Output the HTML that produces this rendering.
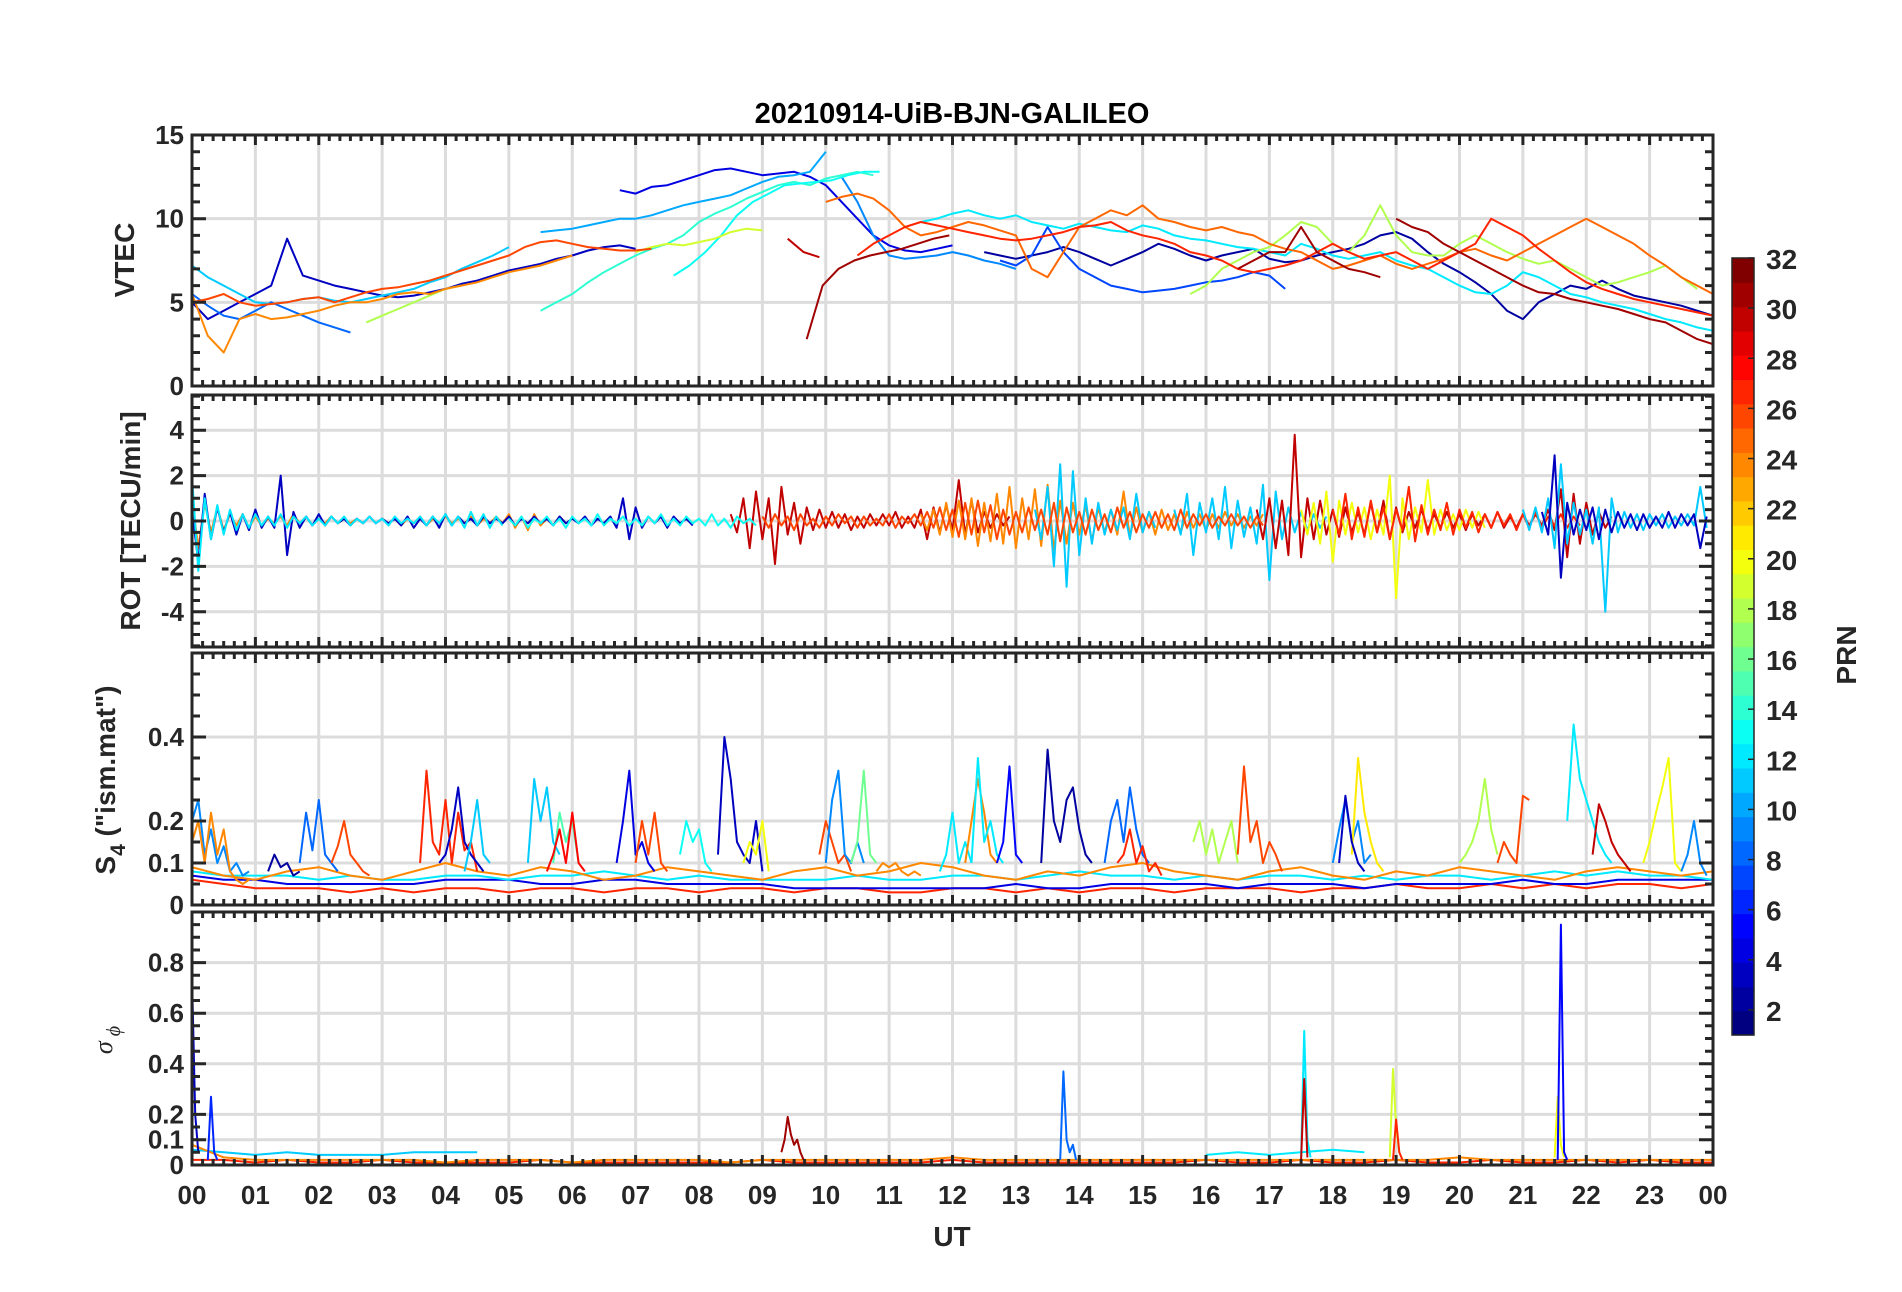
<!DOCTYPE html>
<html><head><meta charset="utf-8"><style>
html,body{margin:0;padding:0;background:#fff;}
svg{display:block;font-family:"Liberation Sans",sans-serif;}
</style></head><body>
<svg id="chart" width="1902" height="1292" viewBox="0 0 1902 1292" xmlns="http://www.w3.org/2000/svg">
<rect x="0" y="0" width="1902" height="1292" fill="#fff"/>
<text x="952" y="123" text-anchor="middle" font-size="29" font-weight="bold" fill="#000">20210914-UiB-BJN-GALILEO</text>
<g id="layers"></g>
<text transform="translate(134,260) rotate(-90)" text-anchor="middle" font-size="28" font-weight="bold" fill="#262626">VTEC</text>
<text transform="translate(140,521) rotate(-90)" text-anchor="middle" font-size="28" font-weight="bold" fill="#262626">ROT [TECU/min]</text>
<text transform="translate(115,780) rotate(-90)" text-anchor="middle" font-size="28" font-weight="bold" fill="#262626">S<tspan dy="10" font-size="21">4</tspan><tspan dy="-10"> ("ism.mat")</tspan></text>
<text transform="translate(112,1040) rotate(-90)" text-anchor="middle" font-size="26" font-style="italic" font-family="Liberation Serif, serif" fill="#262626">σ<tspan dy="8" font-size="20"> ϕ</tspan></text>
<text x="952" y="1246" text-anchor="middle" font-size="28" font-weight="bold" fill="#262626">UT</text>
<text transform="translate(1856,655) rotate(-90)" text-anchor="middle" font-size="28" font-weight="bold" fill="#262626">PRN</text>
</svg>
<script>
// ---------- DATA ----------
const hourLabels = ["00","01","02","03","04","05","06","07","08","09","10","11","12","13","14","15","16","17","18","19","20","21","22","23","00"];
const cbTicks = [2,4,6,8,10,12,14,16,18,20,22,24,26,28,30,32];

// VTEC tracks (dt = 0.25 h)
const vtecPrn = [3,4,2,7,8,11,10,9,12,14,13,19,18,18,24,26,25,27,31,31,31,30];
const vtecStart = [0,6.75,12.5,12.75,0,0,5.5,10.25,11.5,5.5,7.6,7.0,2.75,15.75,0,0,10.0,10.5,9.7,16.5,19.0,9.4];
const vtecVals = [
 [5.0,4.0,4.5,5.0,5.5,6.0,8.8,6.6,6.3,6.0,5.8,5.6,5.4,5.3,5.4,5.6,5.8,6.1,6.3,6.6,6.9,7.1,7.3,7.6,7.8,8.1,8.3,8.4,8.2],
 [11.7,11.5,11.9,12.0,12.3,12.6,12.9,13.0,12.8,12.6,12.7,12.8,12.5,12.0,11.0,10.0,9.0,8.4,8.1,8.0,8.2,8.4],
 [8.0,7.8,7.6,7.8,8.0,8.3,8.0,7.6,7.2,7.6,8.0,8.5,8.2,7.8,7.5,7.8,8.0,8.2,7.6,7.4,7.5,7.8,8.0,8.2,8.5,9.0,9.2,8.8,8.0,7.3,6.8,6.2,5.5,4.5,4.0,5.0,5.5,6.0,5.8,6.3,5.8,5.4,5.2,5.0,4.8,4.5,4.2],
 [7.5,7.2,7.8,9.5,8.0,7.0,6.5,6.0,5.8,5.6,5.7,5.8,6.0,6.2,6.3,6.5,6.8,6.6,5.8],
 [5.5,4.8,4.2,4.0,4.5,5.0,4.6,4.2,3.8,3.5,3.2],
 [7.2,6.5,6.0,5.5,5.0,4.9,5.0,5.2,5.3,5.1,5.0,5.2,5.4,5.6,5.8,6.2,6.5,7.0,7.4,7.8,8.3],
 [9.2,9.3,9.4,9.6,9.8,10.0,10.0,10.2,10.5,10.8,11.0,11.2,11.4,11.8,12.2,12.5,12.6,12.8,14.0],
 [12.5,11.0,9.0,7.8,7.6,7.7,7.8,8.0,7.8,7.5,7.3,7.0],
 [9.8,10.0,10.3,10.5,10.2,10.0,10.2,9.8,9.6,9.4,9.7,9.5,9.3,9.2,9.6,9.4,9.0,8.8,8.7,8.5,8.3,8.2,8.0,7.8,8.5,8.2,7.8,7.6,7.8,8.0,7.5,7.2,7.0,6.5,6.0,5.6,5.5,6.0,6.8,6.5,6.0,5.5,5.3,5.0,4.8,4.6,4.3,4.0,3.8,3.5,3.3],
 [4.5,5.0,5.5,6.2,6.8,7.3,7.8,8.2,8.5,9.0,9.8,10.3,10.7,11.2,11.6,12.0,12.2,12.0,12.4,12.6,12.8,12.6],
 [6.6,7.2,8.0,9.0,10.2,11.0,11.5,12.0,12.1,12.2,12.3,12.6,12.8,12.8],
 [8.0,8.3,8.5,8.4,8.6,8.8,9.2,9.4,9.3],
 [3.8,4.2,4.6,5.0,5.4,5.8,6.0],
 [5.5,6.0,7.0,7.5,8.0,8.3,9.0,9.8,9.5,8.5,8.0,9.0,10.8,9.0,8.0,7.8,7.8,8.5,9.0,8.5,8.0,7.6,7.3,7.5,7.0,6.5,6.0,6.2,6.5,6.8,7.2,6.5,5.8],
 [5.5,3.0,2.0,4.0,4.3,4.0,4.1,4.3,4.5,4.8,5.0,5.0,5.2,5.5,5.6,5.5,5.8,6.0,6.2,6.5,6.8,7.0,7.2,7.5,7.8],
 [5.0,5.2,5.5,5.0,4.8,4.9,5.0,5.2,5.3,5.0,5.3,5.6,5.8,5.9,6.1,6.3,6.6,6.9,7.2,7.5,7.8,8.3,8.6,8.7,8.5,8.3,8.2,8.1,8.1,8.2],
 [11.0,11.3,11.5,11.2,10.5,9.5,9.0,9.2,9.5,9.8,9.6,9.3,9.0,7.0,6.5,8.0,9.5,10.0,10.5,10.2,10.8,10.0,9.8,9.5,9.3,9.5,9.2,9.0,8.5,8.2,8.0,7.5,7.0,7.2,7.5,7.8,7.3,7.0,7.3,7.6,8.0,8.2,7.8,7.5,8.0,8.5,9.0,9.5,10.0,9.5,9.0,8.5,7.8,7.2,6.5,6.0,5.5],
 [7.8,8.5,9.0,9.5,9.8,9.6,9.4,9.2,9.0,8.8,8.7,8.8,9.0,9.2,9.5,9.6,9.8,9.3,9.0,8.8,8.5,8.0,7.8,7.5,7.0,6.8,7.0,7.2,7.5,8.0,8.5,8.0,7.6,7.8,8.0,7.5,7.0,7.5,8.0,8.5,10.0,9.5,9.0,8.2,7.5,6.8,6.2,5.8,5.5,5.2,5.0,4.8,4.6,4.4,4.2],
 [2.8,6.0,7.0,7.5,7.8,8.0,8.2,8.5,8.8,9.0],
 [7.0,7.5,8.0,8.0,9.5,8.0,7.5,7.0,6.8,6.5],
 [10.0,9.5,9.2,8.5,8.0,7.5,7.0,6.5,6.0,5.6,5.5,5.2,5.0,4.8,4.6,4.3,4.0,3.8,3.3,2.8,2.5,2.8,3.0,3.0,3.0],
 [8.8,8.0,7.7]
];

// ROT tracks (dt = 0.1 h)
const rotPrn = [24,3,12,30,24,11,11,30,20,27,11,3,13,26];
const rotStart = [0,0,0,8.5,11.5,13.3,15.5,16.8,17.5,18.0,21.0,21.3,5.0,9.0];
const rotVals = [
 [1.0,-1.2,0.8,-0.5,0.6,-0.4,0.3,-0.2,0.3,-0.3,0.2,-0.2,0.1,-0.1,0.2,-0.2,0.3,-0.1,0.2,-0.2,0.1,-0.1,0.2,-0.1,0.1,-0.1,0.1,-0.1,0.2,-0.1,0.1,-0.1,0.1,-0.2,0.1,-0.1,0.2,-0.2,0.1,-0.1,0.2,-0.1,0.1,-0.1,0.2,-0.2,0.1,-0.1,0.2,-0.1,0.3,-0.3,0.2,-0.4,0.3,-0.2,0.1,-0.2,0.2,-0.1],
 [0.5,-1.8,1.2,-0.8,0.6,-0.5,0.4,-0.6,0.3,-0.4,0.5,-0.3,0.2,-0.3,2.0,-1.5,0.4,-0.3,0.2,-0.2,0.3,-0.2,0.2,-0.1,0.1,-0.2,0.1,-0.1,0.2,-0.1,0.1,-0.1,0.1,-0.2,0.2,-0.3,0.1,-0.2,0.2,-0.3,0.3,-0.2,0.2,-0.1,0.1,-0.2,0.2,-0.1,0.1,-0.1,0.2,-0.2,0.1,-0.1,0.2,-0.1,0.1,-0.2,0.2,-0.1,0.1,-0.1,0.2,-0.2,0.1,-0.1,0.2,-0.3,1.0,-0.8,0.6,-0.3,0.2,-0.1,0.2,-0.3,0.2,-0.1,0.1,-0.2],
 [2.0,-2.2,1.0,-0.8,0.7,-0.6,0.5,-0.4,0.3,-0.3,0.3,-0.2,0.2,-0.2,0.3,-0.3,0.2,-0.1,0.2,-0.2,0.1,-0.2,0.2,-0.1,0.2,-0.2,0.1,-0.1,0.2,-0.1,0.1,-0.2,0.2,-0.1,0.1,-0.1,0.2,-0.2,0.2,-0.1,0.3,-0.2,0.2,-0.3,0.4,-0.2,0.3,-0.3,0.2,-0.2],
 [0.3,-0.5,1.0,-1.2,1.3,-0.8,1.0,-1.9,1.5,-0.6,0.8,-1.0,0.6,-0.4,0.5,-0.3,0.4,-0.3,0.3,-0.4,0.2,-0.3,0.3,-0.2,0.3,-0.2,0.4,-0.3,0.2,-0.3,0.5,-0.8,0.6,-0.5,0.7,-0.4,1.8,-0.6,0.9,-0.5,0.4,-0.3,0.3,-0.2,0.2],
 [0.3,-0.4,0.5,-0.6,0.8,-0.7,0.9,-0.8,1.0,-1.1,0.8,-0.9,1.2,-1.0,1.5,-1.2,1.0,-0.8,1.4,-1.1,1.6,-1.3,0.9,-1.0,0.8,-0.6,0.7,-0.9,0.6,-0.5,0.5,-0.6,1.3,-0.7,0.6,-0.5,0.4,-0.6,0.5,-0.4,0.3,-0.5,0.4,-0.3,0.3,-0.4,0.3,-0.3,0.4,-0.2,0.3,-0.3,0.2,-0.2,0.3],
 [0.5,-0.8,1.5,-2.0,2.5,-2.9,2.2,-1.5,1.0,-1.0,0.8,-0.6,0.5,-0.4,0.6,-0.8,1.2,-0.5,0.4,-0.3],
 [0.5,-0.6,1.2,-1.5,0.8,-0.5,1.0,-0.8,1.5,-1.2,0.9,-0.7,0.6,-1.0,1.6,-2.6,1.3,-0.8,0.6,-0.5,0.4,-0.4,0.3,-0.3,0.2],
 [0.5,-0.8,1.0,-1.2,0.9,-1.5,3.8,-1.6,1.0,-0.8,0.9,-0.6,0.5,-0.7,0.6,-0.5,0.4,-0.6,0.8,-0.5,0.9,-0.8,0.6,-0.5,0.4,-0.3,0.5,-0.4,0.3,-0.3,0.4,-0.3,0.3,-0.4,0.3,-0.2,0.3,-0.3,0.4,-0.3,0.2,-0.3,0.3,-0.2,0.3,-0.2,0.5,-0.4,1.4,-1.6,1.2,-1.0,0.8,-0.6,0.4,-0.3,0.2],
 [0.5,-0.6,0.8,-1.0,1.3,-1.8,0.9,-0.6,0.8,-0.5,0.6,-0.8,0.5,-0.6,2.0,-3.4,1.0,-0.8,0.6,-0.5,1.8,-0.6,0.5,-0.4,0.3,-0.4,0.5,-0.3,0.4,-0.3],
 [0.5,-0.6,1.2,-0.8,0.6,-0.7,0.9,-0.5,0.6,-0.8,0.5,-0.4,1.5,-0.9,0.7,-0.6,0.5,-0.4,0.8,-0.6,0.5,-0.3,0.4,-0.5,0.3,-0.3,0.4,-0.2,0.3,-0.4,0.3,-0.3,0.4,-0.3,0.2,-0.2,0.3,-0.3,0.2,-0.2],
 [0.5,-0.4,0.6,-0.5,1.0,-1.2,2.5,-1.0,0.8,-0.6,0.5,-1.0,0.6,-4.0,1.0,-0.5,0.4,-0.3,0.3,-0.4,0.3,-0.2,0.3,-0.3,0.2,-0.2,0.3,-0.2,1.5,-0.3],
 [0.4,-0.6,2.9,-2.5,0.8,-0.6,0.5,-0.4,0.6,-0.8,0.5,-0.5,0.4,-0.3,0.3,-0.4,0.3,-0.3,0.2,-0.3,0.4,-0.3,0.3,-0.2,0.3,-1.2,0.2],
 [0.1,-0.2,0.2,-0.3,0.1,-0.1,0.2,-0.2,0.1,-0.3,0.2,-0.1,0.1,-0.2,0.3,-0.2,0.1,-0.1,0.2,-0.2,0.1,-0.2,0.2,-0.1,0.3,-0.2,0.1,-0.2,0.2,-0.1,0.1,-0.2,0.3,-0.2,0.1,-0.3,0.2,-0.1,0.1,-0.2],
 [0.2,-0.3,0.3,-0.2,0.2,-0.4,0.3,-0.2,0.1,-0.3,0.2,-0.2,0.3,-0.1,0.2,-0.3,0.2,-0.2,0.1,-0.2,0.3,-0.3,0.2,-0.1,0.3,-0.2,0.4,-0.3,0.6,-0.4,0.5,-0.7,0.8,-0.6,0.9,-0.5,0.7,-0.8,0.5,-0.6,0.4,-0.5,0.6,-0.4,0.5,-0.6,0.8,-0.9,0.6,-0.5,0.4,-0.6,0.5,-0.4,0.3,-0.5,0.6,-0.3,0.4,-0.5,0.3,-0.3,0.4,-0.3,0.3,-0.4,0.5,-0.3,0.3,-0.2,0.3,-0.3,0.2,-0.2,0.3,-0.2,0.2,-0.3,0.2,-0.2]
];

// S4 baselines (dt = 0.5 h)
const s4BasePrn = [27,4,12,24];
const s4BaseVals = [
 [0.06,0.05,0.04,0.04,0.04,0.03,0.04,0.03,0.04,0.04,0.03,0.04,0.04,0.03,0.04,0.04,0.03,0.04,0.04,0.03,0.04,0.04,0.03,0.03,0.04,0.04,0.03,0.04,0.03,0.04,0.04,0.03,0.04,0.04,0.04,0.03,0.04,0.04,0.05,0.04,0.04,0.05,0.04,0.05,0.04,0.05,0.05,0.04,0.05],
 [0.07,0.06,0.06,0.05,0.05,0.05,0.05,0.05,0.06,0.06,0.06,0.05,0.05,0.06,0.06,0.05,0.05,0.05,0.05,0.04,0.04,0.04,0.04,0.04,0.04,0.04,0.05,0.04,0.04,0.05,0.05,0.05,0.05,0.04,0.05,0.05,0.05,0.04,0.05,0.05,0.05,0.05,0.06,0.05,0.05,0.06,0.06,0.06,0.06],
 [0.08,0.07,0.07,0.07,0.06,0.07,0.06,0.06,0.07,0.07,0.06,0.07,0.07,0.08,0.07,0.06,0.07,0.06,0.06,0.06,0.06,0.07,0.06,0.06,0.07,0.07,0.06,0.07,0.08,0.07,0.07,0.06,0.07,0.06,0.07,0.07,0.06,0.07,0.06,0.07,0.07,0.06,0.07,0.08,0.07,0.08,0.07,0.07,0.06],
 [0.09,0.07,0.06,0.08,0.09,0.07,0.06,0.08,0.1,0.08,0.07,0.09,0.08,0.06,0.07,0.09,0.08,0.07,0.06,0.08,0.09,0.07,0.08,0.1,0.09,0.07,0.06,0.08,0.07,0.09,0.1,0.08,0.07,0.06,0.08,0.09,0.07,0.06,0.08,0.07,0.09,0.08,0.07,0.06,0.08,0.09,0.08,0.07,0.08]
];
// S4 bursts (dt = 0.1 h)
const s4Prn = [9,24,2,8,26,27,3,11,11,15,28,4,26,13,3,20,26,9,16,24,12,24,12,5,2,8,27,18,26,9,21,3,18,26,12,30,20,9];
const s4Start = [0,0,1.2,1.7,2.2,3.6,3.9,4.3,5.3,5.7,5.6,6.7,7.0,7.7,8.3,8.7,9.9,10.0,10.4,10.8,11.8,12.2,12.3,12.7,13.4,14.4,14.6,15.8,16.5,18.0,18.3,18.1,20.0,20.6,21.7,22.1,22.9,23.5];
const s4Vals = [
 [0.2,0.25,0.12,0.18,0.1,0.14,0.08,0.1,0.07,0.08],
 [0.15,0.2,0.1,0.22,0.12,0.18,0.08,0.06,0.05,0.06],
 [0.08,0.12,0.09,0.1,0.07,0.08],
 [0.1,0.22,0.13,0.25,0.12,0.1,0.08],
 [0.1,0.14,0.2,0.12,0.1,0.08,0.07],
 [0.1,0.32,0.15,0.12,0.25,0.1,0.22,0.13,0.15,0.08],
 [0.1,0.12,0.18,0.28,0.15,0.12,0.1,0.08],
 [0.08,0.15,0.25,0.12,0.1],
 [0.1,0.3,0.2,0.28,0.15,0.12],
 [0.1,0.22,0.15,0.2,0.1],
 [0.08,0.12,0.18,0.1,0.22,0.1,0.08],
 [0.1,0.2,0.32,0.12,0.15,0.1,0.08],
 [0.1,0.2,0.12,0.22,0.1,0.08],
 [0.12,0.2,0.15,0.18,0.1,0.08],
 [0.12,0.4,0.3,0.15,0.12,0.1,0.2,0.08],
 [0.1,0.15,0.12,0.2,0.08],
 [0.12,0.2,0.15,0.1,0.12,0.08],
 [0.1,0.25,0.32,0.12,0.1,0.15,0.1],
 [0.1,0.15,0.32,0.12,0.1],
 [0.08,0.1,0.09,0.1,0.08,0.07,0.08,0.07],
 [0.08,0.12,0.22,0.1,0.15,0.1],
 [0.1,0.2,0.3,0.22,0.12,0.1],
 [0.1,0.35,0.15,0.2,0.12,0.1],
 [0.1,0.15,0.33,0.12,0.1],
 [0.1,0.37,0.2,0.15,0.25,0.28,0.18,0.12,0.1],
 [0.1,0.2,0.25,0.15,0.28,0.18,0.12,0.1],
 [0.1,0.12,0.18,0.1,0.14,0.08,0.1,0.07],
 [0.15,0.2,0.12,0.18,0.1,0.15,0.2,0.1],
 [0.12,0.33,0.15,0.2,0.1,0.15,0.12,0.08],
 [0.1,0.18,0.25,0.15,0.2,0.1,0.12],
 [0.12,0.35,0.22,0.15,0.1,0.08],
 [0.1,0.26,0.15,0.1,0.08],
 [0.1,0.12,0.15,0.2,0.3,0.18,0.12],
 [0.1,0.15,0.12,0.1,0.26,0.25],
 [0.2,0.43,0.3,0.25,0.2,0.15,0.12,0.1],
 [0.12,0.24,0.2,0.15,0.12,0.1,0.08],
 [0.1,0.15,0.22,0.28,0.35,0.1,0.08],
 [0.08,0.12,0.2,0.1,0.07]
];

// Sigma-phi baselines (dt = 0.5 h)
const sigBasePrn = [11,12,27,24];
const sigBaseStart = [0,16,0,0];
const sigBaseVals = [
 [0.06,0.05,0.04,0.05,0.04,0.04,0.04,0.05,0.05,0.05],
 [0.04,0.05,0.04,0.05,0.06,0.05],
 [0.02,0.02,0.01,0.02,0.01,0.01,0.02,0.01,0.01,0.01,0.01,0.02,0.01,0.01,0.01,0.01,0.01,0.01,0.02,0.01,0.01,0.01,0.01,0.01,0.02,0.01,0.01,0.01,0.01,0.01,0.01,0.01,0.02,0.01,0.01,0.02,0.01,0.01,0.02,0.01,0.01,0.02,0.01,0.01,0.02,0.01,0.02,0.01,0.01],
 [0.08,0.03,0.02,0.02,0.02,0.02,0.02,0.02,0.01,0.02,0.02,0.02,0.01,0.02,0.02,0.02,0.02,0.01,0.02,0.02,0.02,0.02,0.02,0.02,0.03,0.02,0.02,0.02,0.02,0.02,0.02,0.02,0.02,0.02,0.02,0.02,0.02,0.02,0.02,0.02,0.03,0.02,0.02,0.02,0.02,0.02,0.02,0.02,0.02]
];
// Sigma-phi spikes (dt = 0.05 h)
const sigPrn = [3,6,31,8,12,30,19,27,20,5];
const sigStart = [0,0.25,9.3,13.7,17.5,17.5,18.9,18.95,21.5,21.55];
const sigVals = [
 [0.75,0.2,0.05],
 [0.02,0.27,0.05,0.02],
 [0.05,0.1,0.19,0.12,0.08,0.1,0.05,0.02],
 [0.02,0.37,0.1,0.05,0.08,0.02],
 [0.03,0.53,0.1,0.03],
 [0.02,0.34,0.03],
 [0.03,0.38,0.15,0.05],
 [0.02,0.18,0.05,0.02],
 [0.03,0.27,0.08,0.03],
 [0.02,0.95,0.05,0.02]
];

// ---------- RENDER ----------
const NS = "http://www.w3.org/2000/svg";
const svg = document.getElementById("chart");
const layers = document.getElementById("layers");
const X0 = 192, X1 = 1713;
const panels = [
 {name:"vtec", top:135, bot:386, min:0, max:15, major:[0,5,10,15], labels:["0","5","10","15"], minor:1},
 {name:"rot", top:395, bot:647, min:-5.55, max:5.55, major:[-4,-2,0,2,4], labels:["-4","-2","0","2","4"], minor:0.5},
 {name:"s4", top:653, bot:905, min:0, max:0.6, major:[0,0.1,0.2,0.4], labels:["0","0.1","0.2","0.4"], minor:0.05},
 {name:"sigma", top:912, bot:1165, min:0, max:1, major:[0,0.1,0.2,0.4,0.6,0.8], labels:["0","0.1","0.2","0.4","0.6","0.8"], minor:0.05}
];
function xs(t){ return X0 + (X1-X0)*t/24; }
function ysF(p){ return v => p.bot - (p.bot-p.top)*(v-p.min)/(p.max-p.min); }
function jet(p){
 const v=(p-1)/31;
 const c=x=>Math.round(255*Math.max(0,Math.min(1,x)));
 return `rgb(${c(1.5-Math.abs(4*v-3))},${c(1.5-Math.abs(4*v-2))},${c(1.5-Math.abs(4*v-1))})`;
}
function mk(tag, attrs, parent){
 const e=document.createElementNS(NS,tag);
 for(const k in attrs) e.setAttribute(k,attrs[k]);
 (parent||layers).appendChild(e); return e;
}
const AX="#262626";
panels.forEach((p,pi)=>{
 const ys=ysF(p);
 const g=mk("g",{});
 
 
 mk("rect",{x:X0,y:p.top,width:X1-X0,height:p.bot-p.top,fill:"#fff"},g);
 for(let h=1;h<24;h++){
  const gl=mk("line",{x1:xs(h),x2:xs(h),y1:p.top,y2:p.bot,stroke:"#dcdcdc","stroke-width":3},g);
  
  
 }
 p.major.forEach((v,i)=>{
  const y=ys(v);
  if(v!==p.min){
   const gl=mk("line",{x1:X0,x2:X1,y1:y,y2:y,stroke:"#dcdcdc","stroke-width":3},g);
   
   
  }
  const tl=mk("text",{x:X0-8,y:y+9,"text-anchor":"end","font-size":26,"font-weight":"bold",fill:AX},g);
  tl.textContent=p.labels[i];
  
  
 });
 const cp=mk("clipPath",{id:"clip"+pi},g);
 mk("rect",{x:X0,y:p.top,width:X1-X0,height:p.bot-p.top},cp);
 const dg=mk("g",{"clip-path":`url(#clip${pi})`},g);
 
 
 p.g=dg; p.ys=ys;
});
function drawSeries(p, prns, starts, vals, dt, nm){
 vals.forEach((arr,i)=>{
  const pts=arr.map((v,k)=>xs(starts[i]+k*dt).toFixed(1)+","+p.ys(v).toFixed(1)).join(" ");
  const pl=mk("polyline",{points:pts,fill:"none",stroke:jet(prns[i]),"stroke-width":2,"stroke-linejoin":"round"},p.g);
  
  
 });
}
drawSeries(panels[0], vtecPrn, vtecStart, vtecVals, 0.25, "vtec-line");
drawSeries(panels[1], rotPrn, rotStart, rotVals, 0.1, "rot-line");
drawSeries(panels[2], s4BasePrn, s4BasePrn.map(()=>0), s4BaseVals, 0.5, "s4-line");
drawSeries(panels[2], s4Prn, s4Start, s4Vals, 0.1, "s4-line");
drawSeries(panels[3], sigBasePrn, sigBaseStart, sigBaseVals, 0.5, "sigma-line");
drawSeries(panels[3], sigPrn, sigStart, sigVals, 0.05, "sigma-line");

panels.forEach(p=>{
 const g=mk("g",{});
 
 
 let d="";
 for(let m=0;m<=144;m++){
  const x=xs(m/6).toFixed(1); const L=(m%6===0)?10:6;
  d+=`M${x},${p.top}v${L}M${x},${p.bot}v${-L}`;
 }
 const first=Math.ceil((p.min)/p.minor);
 for(let k=first;k*p.minor<=p.max+1e-9;k++){
  const v=k*p.minor; const y=p.ys(v).toFixed(1);
  const isMaj=p.major.some(m=>Math.abs(m-v)<1e-9);
  const L=isMaj?14:8;
  d+=`M${X0},${y}h${L}M${X1},${y}h${-L}`;
 }
 mk("path",{d,stroke:AX,"stroke-width":3,fill:"none"},g);
 mk("rect",{x:X0,y:p.top,width:X1-X0,height:p.bot-p.top,fill:"none",stroke:AX,"stroke-width":3},g);
});
hourLabels.forEach((l,i)=>{
 const t=mk("text",{x:xs(i),y:1204,"text-anchor":"middle","font-size":26,"font-weight":"bold",fill:AX});
 t.textContent=l;
 
 
});
// colorbar
const CBX=1732, CBW=22, CBT=258, CBB=1035;
const cbs=v=> CBB-(CBB-CBT)*(v-1)/31;
const cg=mk("g",{});


for(let p=1;p<=32;p++){
 const y0=CBB-(CBB-CBT)*p/32, h=(CBB-CBT)/32;
 mk("rect",{x:CBX,y:y0.toFixed(1),width:CBW,height:(h+0.6).toFixed(1),fill:jet(p)},cg);
}
mk("rect",{x:CBX,y:CBT,width:CBW,height:CBB-CBT,fill:"none",stroke:AX,"stroke-width":1.5},cg);
cbTicks.forEach(v=>{
 const y=cbs(v);
 mk("line",{x1:CBX+CBW-6,x2:CBX+CBW,y1:y,y2:y,stroke:AX,"stroke-width":1.5},cg);
 const t=mk("text",{x:CBX+CBW+12,y:y+11,"font-size":28,"font-weight":"bold",fill:AX},cg);
 t.textContent=v;
 
 
});
</script>
</body></html>
